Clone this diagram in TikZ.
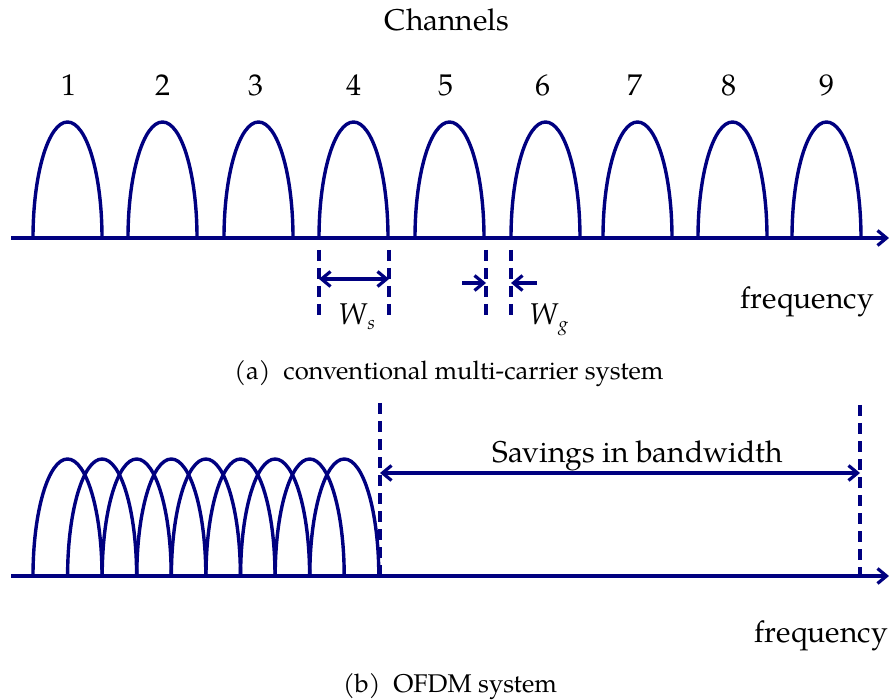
\documentclass[tikz,border=0pt]{standalone}
\usepackage{fontspec}
\setmainfont{TeX Gyre Pagella}
\usetikzlibrary{arrows.meta}
\definecolor{navyblue}{RGB}{0,0,128}
\begin{document}
\begin{tikzpicture}[x=1pt,y=-1pt,
  hump/.style={draw=navyblue,line width=3.4pt},
  axisline/.style={draw=navyblue,line width=4pt,-{Straight Barb[length=9pt,width=15pt,line width=3.2pt]}},
  guide/.style={draw=navyblue,line width=3.2pt,dash pattern=on 11pt off 7pt},
  dimboth/.style={draw=navyblue,line width=3.2pt,{Straight Barb[length=9pt,width=15pt]}-{Straight Barb[length=9pt,width=15pt]}},
  dimone/.style={draw=navyblue,line width=3.2pt,-{Straight Barb[length=9pt,width=15pt]}},
  lbl/.style={font=\fontsize{30}{36}\selectfont,inner sep=0pt},
  captext/.style={font=\fontsize{25.6}{30}\selectfont,inner sep=0pt}]
\useasboundingbox (0,0) rectangle (889,700);

% ---------- (a) conventional ----------
\node[lbl,anchor=base] (title) at (447,31) {Channels};
\foreach \s/\lx [count=\i] in {33/69,128/163,224/256,319/354,415/446,511/543,603/635,698/729,792/827}{
  \draw[hump] (\s,238) .. controls (\s,173.9) and (\s+15.45,122) .. (\s+34.5,122)
              .. controls (\s+53.55,122) and (\s+69,173.9) .. (\s+69,238);
  \node[lbl,anchor=base] (ch\i) at (\lx,96) {\i};
}
\coordinate (axAs) at (11,238);
\coordinate (axAe) at (889,238);
\draw[axisline] (axAs) -- (axAe);

\coordinate (g1t) at (319,250); \coordinate (g1b) at (319,319);
\coordinate (g2t) at (389,250); \coordinate (g2b) at (389,319);
\coordinate (g3t) at (486,250); \coordinate (g3b) at (486,319);
\coordinate (g4t) at (511,250); \coordinate (g4b) at (511,319);
\draw[guide] (g1t) -- (g1b);
\draw[guide] (g2t) -- (g2b);
\draw[guide] (g3t) -- (g3b);
\draw[guide] (g4t) -- (g4b);

\coordinate (wsl) at (319,279); \coordinate (wsr) at (389,279);
\draw[dimboth] (wsl) -- (wsr);
\coordinate (wga) at (462,283); \coordinate (wgb) at (486,283);
\coordinate (wgc) at (537,283); \coordinate (wgd) at (511,283);
\draw[dimone] (wga) -- (wgb);
\draw[dimone] (wgc) -- (wgd);

\node[lbl,anchor=base west] (ws) at (338,325) {\textit{W}\raisebox{-5pt}{\fontsize{19}{19}\selectfont\textit{s}}};
\node[lbl,anchor=base west] (wg) at (529,325) {\textit{W}\raisebox{-6pt}{\fontsize{19}{19}\selectfont\textit{g}}};
\node[lbl,anchor=base east] (freqA) at (874,309) {frequency};
\node[captext,anchor=base] (capA) at (449,380) {(a)\enspace conventional multi-carrier system};

% ---------- (b) OFDM ----------
\foreach \k in {0,...,8}{
  \pgfmathsetmacro{\s}{33+34.6*\k}
  \draw[hump] (\s,576) .. controls (\s,511.4) and (\s+15.45,459) .. (\s+34.5,459)
              .. controls (\s+53.55,459) and (\s+69,511.4) .. (\s+69,576);
}
\coordinate (axBs) at (11,576);
\coordinate (axBe) at (889,576);
\draw[axisline] (axBs) -- (axBe);

\coordinate (s1t) at (380,403); \coordinate (s1b) at (380,581);
\coordinate (s2t) at (860,405); \coordinate (s2b) at (860,581);
\draw[guide] (s1t) -- (s1b);
\draw[guide] (s2t) -- (s2b);
\coordinate (sa) at (380,473); \coordinate (sb) at (860,473);
\draw[dimboth] (sa) -- (sb);
\node[lbl,anchor=base] (sav) at (638,462) {Savings in bandwidth};
\node[lbl,anchor=base east] (freqB) at (888,642) {frequency};
\node[captext,anchor=base] (capB) at (450,692) {(b)\enspace OFDM system};
\end{tikzpicture}
\end{document}
